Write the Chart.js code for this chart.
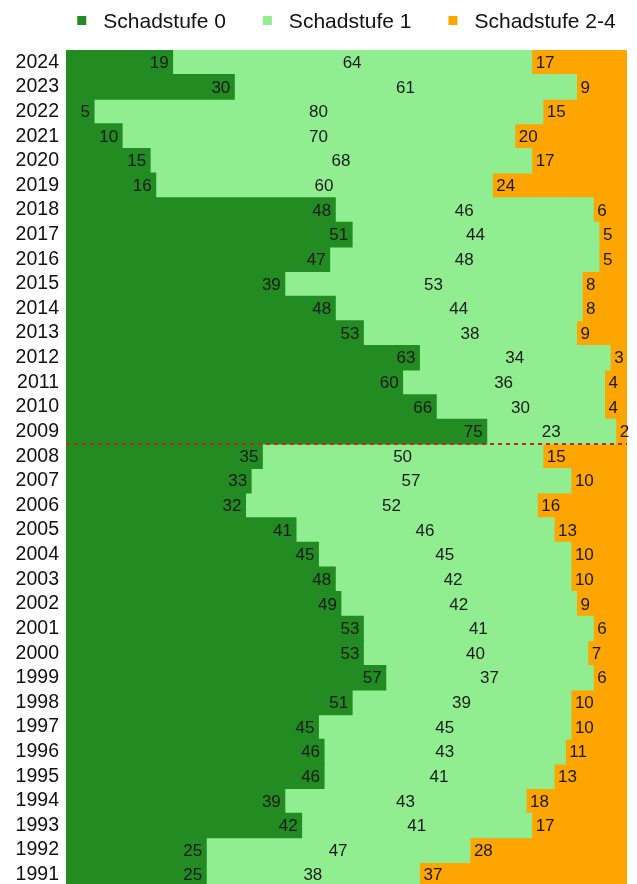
<!DOCTYPE html>
<html>
<head>
<meta charset="utf-8">
<script src="https://cdn.jsdelivr.net/npm/chart.js@4"></script>
<style>
  html, body { margin: 0; padding: 0; background: #fff; overflow: hidden; }
  #wrap { width: 637px; height: 888px; }
</style>
</head>
<body>
<div id="wrap"><canvas id="chart"></canvas></div>
<script>
const years = ["2024","2023","2022","2021","2020","2019","2018","2017","2016","2015","2014","2013","2012","2011","2010","2009",
    "2008","2007","2006","2005","2004","2003","2002","2001","2000","1999","1998","1997","1996","1995","1994","1993","1992","1991"];
const stufe0 = [19,30,5,10,15,16,48,51,47,39,48,53,63,60,66,75,35,33,32,41,45,48,49,53,53,57,51,45,46,46,39,42,25,25];
const stufe1 = [64,61,80,70,68,60,46,44,48,53,44,38,34,36,30,23,50,57,52,46,45,42,42,41,40,37,39,45,43,41,43,41,47,38];
const stufe24 = [17,9,15,20,17,24,6,5,5,8,8,9,3,4,4,2,15,10,16,13,10,10,9,6,7,6,10,10,11,13,18,17,28,37];
const seriesNames = ["Schadstufe 0", "Schadstufe 1", "Schadstufe 2-4"];
const colors = ["#228B22", "#90EE90", "#FFA500"];
const FONT = '"Liberation Sans", Arial, sans-serif';

// labels: dark green at end, light green centered, orange at start
const barLabels = {
    id: 'barLabels',
    afterDatasetsDraw(chart) {
        const ctx = chart.ctx;
        ctx.save();
        ctx.font = '17px ' + FONT;
        ctx.fillStyle = '#1a1a1a';
        ctx.textBaseline = 'middle';
        chart.data.datasets.forEach((ds, di) => {
            chart.getDatasetMeta(di).data.forEach((bar, i) => {
                const v = ds.data[i];
                const left = bar.base, right = bar.x;
                let x;
                if (di === 0) { ctx.textAlign = 'right'; x = right - 4; }
                else if (di === 1) { ctx.textAlign = 'center'; x = (left + right) / 2; }
                else { ctx.textAlign = 'left'; x = left + 4; }
                ctx.fillText(String(v), x, bar.y + 1);
            });
        });
        ctx.restore();
    }
};

const splitLine = {
    id: 'splitLine',
    afterDatasetsDraw(chart) {
        const y = chart.scales.y;
        const a = years.indexOf("2009"), b = years.indexOf("2008");
        const yy = (y.getPixelForValue(a) + y.getPixelForValue(b)) / 2;
        const ctx = chart.ctx;
        ctx.save();
        ctx.strokeStyle = '#C0281E';
        ctx.lineWidth = 2;
        ctx.setLineDash([4, 4]);
        ctx.beginPath();
        ctx.moveTo(chart.chartArea.left, yy);
        ctx.lineTo(chart.chartArea.right, yy);
        ctx.stroke();
        ctx.restore();
    }
};

// legend on top, centred over the plot area
const topLegend = {
    id: 'topLegend',
    afterDraw(chart) {
        const ctx = chart.ctx;
        const area = chart.chartArea;
        ctx.save();
        ctx.font = '21px ' + FONT;
        const box = 9, toText = 17, gap = 37;
        const widths = seriesNames.map(n => ctx.measureText(n).width);
        const total = widths.reduce((s, w) => s + w, 0) + seriesNames.length * (box + toText) + (seriesNames.length - 1) * gap;
        let x = (area.left + area.right) / 2 - total / 2;
        ctx.textBaseline = 'alphabetic';
        ctx.textAlign = 'left';
        seriesNames.forEach((n, i) => {
            ctx.fillStyle = colors[i];
            ctx.fillRect(x, 16, box, box);
            ctx.fillStyle = '#111';
            ctx.fillText(n, x + box + toText, 28);
            x += box + toText + widths[i] + gap;
        });
        ctx.restore();
    }
};

new Chart(document.getElementById('chart'), {
    type: 'bar',
    data: {
        labels: years,
        datasets: [stufe0, stufe1, stufe24].map((d, i) => ({
            label: seriesNames[i],
            data: d,
            backgroundColor: colors[i],
            borderWidth: 0,
            inflateAmount: 0.5,
            categoryPercentage: 1,
            barPercentage: 1
        }))
    },
    options: {
        indexAxis: 'y',
        responsive: true,
        maintainAspectRatio: false,
        animation: false,
        layout: { padding: { top: 50, right: 10, left: 16, bottom: 1 } },
        plugins: {
            legend: { display: false },
            tooltip: { enabled: false }
        },
        scales: {
            x: {
                stacked: true,
                min: 0,
                max: 100,
                display: false
            },
            y: {
                stacked: true,
                grid: { display: false, drawTicks: false, tickLength: 0 },
                border: { display: false },
                afterFit(scale) {
                    scale.width = 50;
                    scale.paddingTop = 0;
                    scale.paddingBottom = 0;
                },
                ticks: {
                    color: '#111',
                    padding: 7,
                    autoSkip: false,
                    font: { size: 19.5, family: FONT }
                }
            }
        }
    },
    plugins: [barLabels, splitLine, topLegend]
});
</script>
</body>
</html>
